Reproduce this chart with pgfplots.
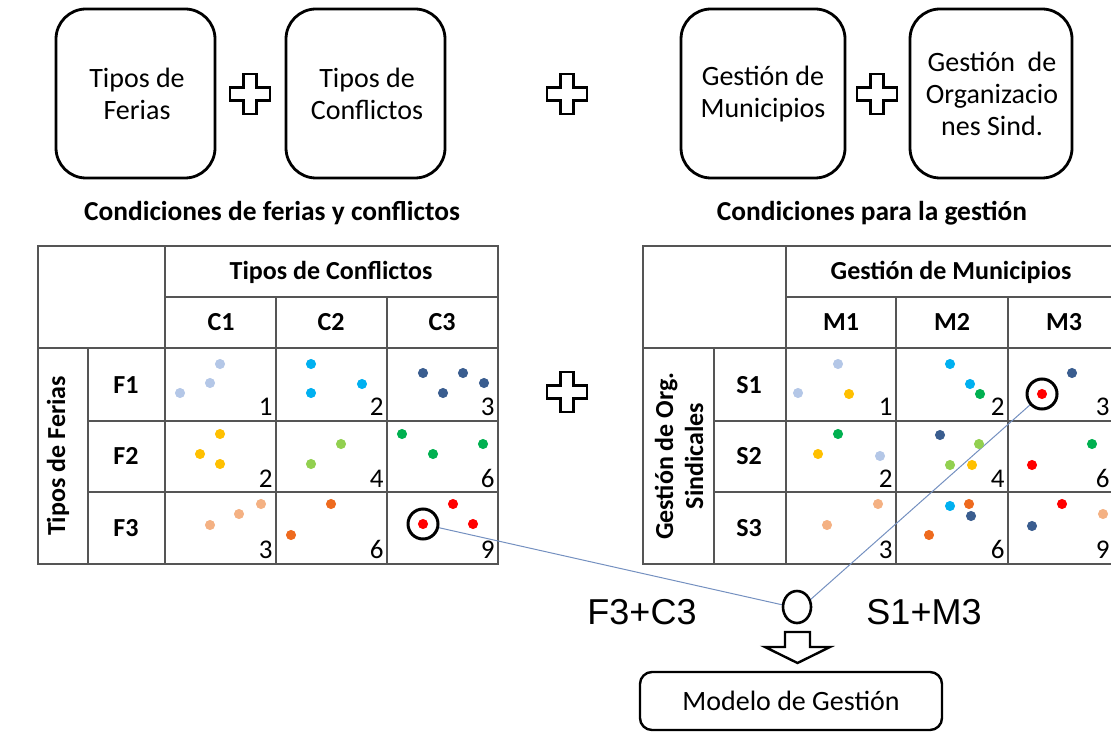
\documentclass[border=0pt]{standalone}
\usepackage{fontspec}
\setmainfont{Carlito}
\newfontfamily\arial{Liberation Sans}
\usepackage{pgfplots}
\pgfplotsset{compat=1.18}

\definecolor{cLight}{HTML}{B4C7E7}
\definecolor{cCyan}{HTML}{00B0F0}
\definecolor{cNavy}{HTML}{3A5D8F}
\definecolor{cGold}{HTML}{FFC000}
\definecolor{cLime}{HTML}{92D050}
\definecolor{cGreen}{HTML}{00B050}
\definecolor{cPeach}{HTML}{F4B183}
\definecolor{cOrange}{HTML}{EE6A1E}
\definecolor{cRed}{HTML}{FF0000}
\definecolor{cLink}{HTML}{7490C0}
\definecolor{cGrid}{HTML}{555555}

% 1 px of the reference = 0.5pt
\newcommand\fz{\fontsize{14}{16}\selectfont}
\newcommand\fb{\fontsize{13.7}{16}\selectfont\bfseries}
\newcommand\fh{\fontsize{13}{15}\selectfont\bfseries}
\newcommand\fn{\fontsize{13.5}{15}\selectfont}

% outlined plus sign centred at (#1,#2)
\newcommand\plusat[2]{%
  \draw[line width=1.3pt, line join=miter]
    ({#1-6.5},{#2-20}) -- ({#1+6.5},{#2-20}) -- ({#1+6.5},{#2-6.5}) --
    ({#1+20},{#2-6.5}) -- ({#1+20},{#2+6.5}) -- ({#1+6.5},{#2+6.5}) --
    ({#1+6.5},{#2+20}) -- ({#1-6.5},{#2+20}) -- ({#1-6.5},{#2+6.5}) --
    ({#1-20},{#2+6.5}) -- ({#1-20},{#2-6.5}) -- ({#1-6.5},{#2-6.5}) -- cycle;}

\begin{document}
\begin{tikzpicture}
\useasboundingbox (0,0) rectangle (555.5pt,366pt);
\begin{axis}[
  at={(0,0)}, anchor=south west,
  width=555.5pt, height=366pt, scale only axis,
  xmin=0, xmax=1111, ymin=0, ymax=732, y dir=reverse,
  hide axis, clip=true,
  dots/.style={only marks, mark=*, mark size=2.3pt},
]

% ---- top row of boxes
\draw[line width=1.4pt, rounded corners=15pt] (56,9) rectangle (215,178);
\draw[line width=1.4pt, rounded corners=15pt] (286,9) rectangle (445,178);
\draw[line width=1.4pt, rounded corners=15pt] (681,9) rectangle (845,178);
\draw[line width=1.4pt, rounded corners=15pt] (910,9) rectangle (1072,178);
\node[font=\fz, align=center] at (137,94) {Tipos de\\Ferias};
\node[font=\fz, align=center] at (367,94) {Tipos de\\Conflictos};
\node[font=\fz, align=center] at (763,94) {Gestión de\\Municipios};
\node[font=\fz, align=center] at (992,94) {Gestión\ \ de\\Organizacio\\nes Sind.};
\plusat{250}{94}
\plusat{567}{94}
\plusat{877}{94}

\node[font=\fb] at (272,213) {Condiciones de ferias y conflictos};
\node[font=\fb] at (872,213) {Condiciones para la gestión};

% ---- left table
\draw[cGrid, line width=0.8pt] (38,246) rectangle (498,564);
\draw[cGrid, line width=0.8pt] (165,297) -- (498,297);
\draw[cGrid, line width=0.8pt] (38,348) -- (498,348);
\draw[cGrid, line width=0.8pt] (88,421) -- (498,421);
\draw[cGrid, line width=0.8pt] (88,492) -- (498,492);
\draw[cGrid, line width=0.8pt] (165,246) -- (165,564);
\draw[cGrid, line width=0.8pt] (276,297) -- (276,564);
\draw[cGrid, line width=0.8pt] (387,297) -- (387,564);
\draw[cGrid, line width=0.8pt] (88,348) -- (88,564);

\node[font=\fh] at (331,272) {Tipos de Conflictos};
\node[font=\fh] at (221,322) {C1};
\node[font=\fh] at (331,322) {C2};
\node[font=\fh] at (442,322) {C3};
\node[font=\fh] at (126,385) {F1};
\node[font=\fh] at (126,456) {F2};
\node[font=\fh] at (126,528) {F3};
\node[font=\fh, rotate=90] at (58,456) {Tipos de Ferias};

\node[font=\fn, anchor=base east, inner sep=0pt] at (273,415) {1};
\node[font=\fn, anchor=base east, inner sep=0pt] at (384,415) {2};
\node[font=\fn, anchor=base east, inner sep=0pt] at (495,415) {3};
\node[font=\fn, anchor=base east, inner sep=0pt] at (273,487) {2};
\node[font=\fn, anchor=base east, inner sep=0pt] at (384,487) {4};
\node[font=\fn, anchor=base east, inner sep=0pt] at (495,487) {6};
\node[font=\fn, anchor=base east, inner sep=0pt] at (273,558) {3};
\node[font=\fn, anchor=base east, inner sep=0pt] at (384,558) {6};
\node[font=\fn, anchor=base east, inner sep=0pt] at (495,558) {9};

% ---- right table
\draw[cGrid, line width=0.8pt] (643,246) rectangle (1119,564);
\draw[cGrid, line width=0.8pt] (786,297) -- (1119,297);
\draw[cGrid, line width=0.8pt] (643,348) -- (1119,348);
\draw[cGrid, line width=0.8pt] (714,421) -- (1119,421);
\draw[cGrid, line width=0.8pt] (714,492) -- (1119,492);
\draw[cGrid, line width=0.8pt] (786,246) -- (786,564);
\draw[cGrid, line width=0.8pt] (896,297) -- (896,564);
\draw[cGrid, line width=0.8pt] (1008,297) -- (1008,564);
\draw[cGrid, line width=0.8pt] (714,348) -- (714,564);

\node[font=\fh] at (951,272) {Gestión de Municipios};
\node[font=\fh] at (841,322) {M1};
\node[font=\fh] at (952,322) {M2};
\node[font=\fh] at (1064,322) {M3};
\node[font=\fh] at (749,385) {S1};
\node[font=\fh] at (749,456) {S2};
\node[font=\fh] at (749,528) {S3};
\node[font=\fh, rotate=90, align=center] at (679,456) {Gestión de Org.\\Sindicales};

\node[font=\fn, anchor=base east, inner sep=0pt] at (893,415) {1};
\node[font=\fn, anchor=base east, inner sep=0pt] at (1005,415) {2};
\node[font=\fn, anchor=base east, inner sep=0pt] at (1110,415) {3};
\node[font=\fn, anchor=base east, inner sep=0pt] at (893,487) {2};
\node[font=\fn, anchor=base east, inner sep=0pt] at (1005,487) {4};
\node[font=\fn, anchor=base east, inner sep=0pt] at (1110,487) {6};
\node[font=\fn, anchor=base east, inner sep=0pt] at (893,558) {3};
\node[font=\fn, anchor=base east, inner sep=0pt] at (1005,558) {6};
\node[font=\fn, anchor=base east, inner sep=0pt] at (1110,558) {9};

\plusat{567}{392}

% ---- dots, left table
\addplot[dots, cLight]  coordinates {(220,364) (210,383) (180,393)};
\addplot[dots, cCyan]   coordinates {(311,364) (311,393) (362,384)};
\addplot[dots, cNavy]   coordinates {(423,373) (463,373) (484,383) (443,393)};
\addplot[dots, cGold]   coordinates {(220,434) (200,454) (220,464)};
\addplot[dots, cLime]   coordinates {(341,444) (311,464)};
\addplot[dots, cGreen]  coordinates {(402,434) (433,454) (483,444)};
\addplot[dots, cPeach]  coordinates {(261,504) (239,514) (210,525)};
\addplot[dots, cOrange] coordinates {(331,504) (291,535)};
\addplot[dots, cRed]    coordinates {(453,504) (423,524) (473,524)};

% ---- dots, right table
\addplot[dots, cLight]  coordinates {(838,364) (798,393) (880,456)};
\addplot[dots, cGold]   coordinates {(849,394) (818,454) (972,465)};
\addplot[dots, cCyan]   coordinates {(950,364) (970,384) (950,506)};
\addplot[dots, cGreen]  coordinates {(980,394) (838,434) (1092,444)};
\addplot[dots, cRed]    coordinates {(1042,394) (1032,465) (1062,504)};
\addplot[dots, cNavy]   coordinates {(1072,373) (940,435) (971,516) (1032,526)};
\addplot[dots, cLime]   coordinates {(979,444) (950,465)};
\addplot[dots, cPeach]  coordinates {(878,504) (827,525) (1103,514)};
\addplot[dots, cOrange] coordinates {(969,504) (929,535)};

% ---- chosen cells
\addplot[only marks, mark=o, mark size=7.5pt, mark options={line width=1.5pt, black}]
  coordinates {(423,524) (1042,394)};

% ---- links to the result
\draw[cLink, line width=0.5pt] (437.6,527.4) -- (783,605);
\draw[cLink, line width=0.5pt] (810,600) -- (1031,404);
\draw[line width=1.3pt] (797,607) ellipse [x radius=7pt, y radius=8pt];
\node[font=\fontsize{18}{20}\selectfont\arial] at (642,612) {F3+C3};
\node[font=\fontsize{18}{20}\selectfont\arial] at (924,612) {S1+M3};

\draw[line width=1.2pt, line join=miter]
  (785,632) -- (810,632) -- (810,647) -- (830,647) -- (797.5,663) --
  (765,647) -- (785,647) -- cycle;
\draw[line width=1.2pt, rounded corners=6pt] (640,672) rectangle (942,730);
\node[font=\fz] at (791,701) {Modelo de Gestión};

\end{axis}
\end{tikzpicture}
\end{document}
